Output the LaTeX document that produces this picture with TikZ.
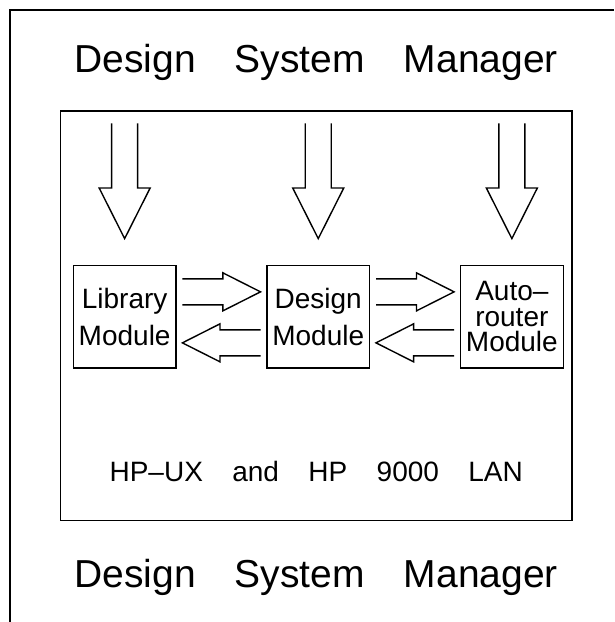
\documentclass[tikz,border=0pt]{standalone}
\usepackage{fontspec}
\setmainfont{Liberation Sans}
\usetikzlibrary{positioning, calc}

\begin{document}
\begin{tikzpicture}[x=1pt, y=1pt, line width=1.4pt,
    module/.style={draw, minimum width=102.7pt, minimum height=102.3pt,
        align=center, font=\fontsize{28}{37.3}\selectfont},
    heading/.style={anchor=base, font=\fontsize{39}{46}\selectfont},
    hollow/.style n args={3}{to path={
        let \p1=(\tikztostart), \p2=(\tikztotarget),
            \n1={veclen(\x2-\x1,\y2-\y1)},
            \n2={(\x2-\x1)/\n1}, \n3={(\y2-\y1)/\n1}, \n4={\n1-#3}
        in ({\x1-#1*\n3},{\y1+#1*\n2})
        -- ({\x1+\n4*\n2-#1*\n3},{\y1+\n4*\n3+#1*\n2})
        -- ({\x1+\n4*\n2-#2*\n3},{\y1+\n4*\n3+#2*\n2})
        -- (\x2,\y2)
        -- ({\x1+\n4*\n2+#2*\n3},{\y1+\n4*\n3-#2*\n2})
        -- ({\x1+\n4*\n2+#1*\n3},{\y1+\n4*\n3-#1*\n2})
        -- ({\x1+#1*\n3},{\y1-#1*\n2})}},
    feed/.style={hollow={13}{19}{37.6}},
    drop/.style={hollow={13}{25.5}{50.6}},
    node distance=89.5pt]

    \useasboundingbox (0,0) rectangle (614,622);
    % 1. Outer frame
    \draw (10,0) -- (10,612) -- (614,612);
    % 2. LAN box
    \node[draw, minimum width=511.5pt, minimum height=409.5pt] (lan) at (316.25,306.25) {};
    % 3. Modules
    \node[module] (lib) at (124.65,305.15) {Library\\Module};
    \node[module, right=of lib] (des) {Design\\Module};
    \node[module, right=of des, font=\fontsize{28}{25.5}\selectfont] (auto) {Auto--\\router\\Module};
    % 4. Inputs from the manager
    \coordinate (libin) at ([yshift=141.7pt]lib.north);
    \coordinate (desin) at ([yshift=141.7pt]des.north);
    \coordinate (autoin) at ([yshift=141.7pt]auto.north);
    \draw[drop] (libin) to ([yshift=26.4pt]lib.north);
    \draw[drop] (desin) to ([yshift=26.4pt]des.north);
    \draw[drop] (autoin) to ([yshift=26.4pt]auto.north);
    % 5. Data exchange between modules
    \draw[feed] ([shift={(5.7,25)}]lib.east) to ([shift={(-5.7,25)}]des.west);
    \draw[feed] ([shift={(-5.7,-26)}]des.west) to ([shift={(5.7,-26)}]lib.east);
    \draw[feed] ([shift={(5.7,25)}]des.east) to ([shift={(-5.7,25)}]auto.west);
    \draw[feed] ([shift={(-5.7,-26)}]auto.west) to ([shift={(5.7,-26)}]des.east);
    % 6. Labels
    \node[heading] (dsmtop) at ([yshift=37.7pt]lan.north) {Design\hspace{1em}System\hspace{1em}Manager};
    \node[heading] (dsmbot) at ([yshift=-66pt]lan.south) {Design\hspace{1em}System\hspace{1em}Manager};
    \node[anchor=base, font=\fontsize{28}{34}\selectfont] (os) at ([yshift=39.8pt]lan.south)
        {HP--UX\hspace{1.05em}and\hspace{1.05em}HP\hspace{1.05em}9000\hspace{1.05em}LAN};
\end{tikzpicture}
\end{document}
